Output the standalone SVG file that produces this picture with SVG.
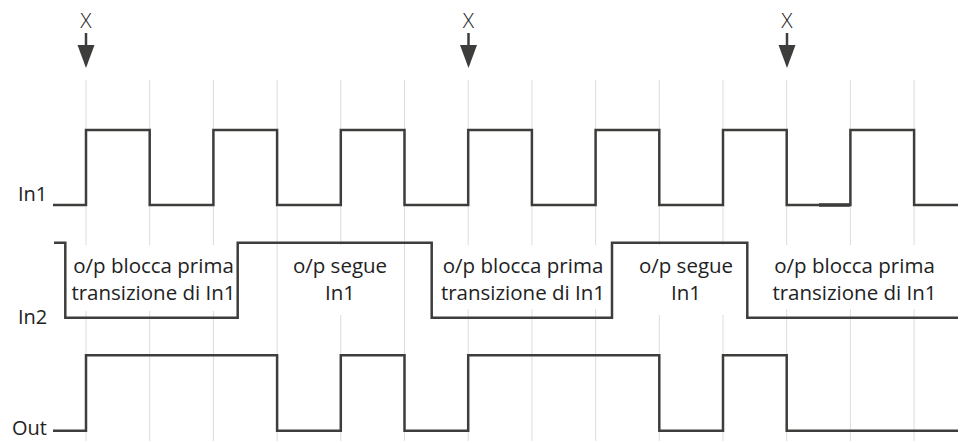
<svg xmlns="http://www.w3.org/2000/svg" width="961" height="443" viewBox="0 0 961 443">
<style>
.grid{stroke:#dcdcdc;stroke-width:1;fill:none}
.sig{stroke:#3d3e3b;stroke-width:2.5;fill:none;stroke-linejoin:miter;stroke-linecap:butt}
.lbl{font-family:"Open Sans","Noto Sans",sans-serif;font-size:20px;fill:#222}
.note{font-family:"Open Sans","Noto Sans",sans-serif;font-size:20.5px;fill:#222;text-anchor:middle}
.x{font-family:"Open Sans","Noto Sans",sans-serif;font-size:21px;fill:#222;text-anchor:middle;font-weight:300}
.mask{fill:#fff}
.arr{fill:#3d3e3b}
</style>
<defs>
<g id="arrow">
<line x1="0" y1="33" x2="0" y2="46" stroke="#3d3e3b" stroke-width="2.5"/>
<polygon class="arr" points="-8.5,45 8.5,45 0,68"/>
</g>
</defs>
<rect width="961" height="443" fill="#fff"/>
<g id="grid">
<path class="grid" d="M86 80V441M149.7 80V441M213.4 80V441M277.1 80V441M340.8 80V441M404.5 80V441M468.2 80V441M531.9 80V441M595.6 80V441M659.3 80V441M723 80V441M786.7 80V441M850.4 80V441M914.1 80V441"/>
</g>
<g id="masks">
<rect class="mask" x="70" y="245" width="166" height="66"/>
<rect class="mask" x="287" y="245" width="106" height="70"/>
<rect class="mask" x="438" y="245" width="172" height="64"/>
<rect class="mask" x="634" y="245" width="104" height="70"/>
<rect class="mask" x="770" y="245" width="170" height="64"/>
</g>
<g id="connectors">
<path id="in1-signal" class="sig" d="M53 205H86V130H149.7V205H213.4V130H277.1V205H340.8V130H404.5V205H468.2V130H531.9V205H595.6V130H659.3V205H723V130H786.7V205H850.4V130H914.1V205H958"/>
<line x1="819" y1="205" x2="850" y2="205" stroke="#3d3e3b" stroke-width="3.5"/>
<path id="in2-signal" class="sig" d="M54 242.7H65.3V317.7H237.7V242.7H431.7V317.7H612V242.7H747.3V317.7H958"/>
<path id="out-signal" class="sig" d="M53 430.7H86V355.3H277.1V430.7H340.8V355.3H404.5V430.7H468.2V355.3H659.3V430.7H723V355.3H786.7V430.7H958"/>
</g>
<g id="marker-1"><text class="x" x="86" y="28">X</text><use href="#arrow" x="86" y="0"/></g>
<g id="marker-2"><text class="x" x="468.5" y="28">X</text><use href="#arrow" x="468.5" y="0"/></g>
<g id="marker-3"><text class="x" x="787" y="28">X</text><use href="#arrow" x="787" y="0"/></g>
<g id="label-in1"><text class="lbl" x="18" y="201">In1</text></g>
<g id="label-in2"><text class="lbl" x="18" y="324">In2</text></g>
<g id="label-out"><text class="lbl" x="12" y="435">Out</text></g>
<g id="note-1"><text class="note" x="153.5" y="273">o/p blocca prima</text><text class="note" x="153.5" y="300">transizione di In1</text></g>
<g id="note-2"><text class="note" x="340" y="273">o/p segue</text><text class="note" x="340" y="300">In1</text></g>
<g id="note-3"><text class="note" x="523" y="273">o/p blocca prima</text><text class="note" x="523" y="300">transizione di In1</text></g>
<g id="note-4"><text class="note" x="686" y="273">o/p segue</text><text class="note" x="686" y="300">In1</text></g>
<g id="note-5"><text class="note" x="854.5" y="273">o/p blocca prima</text><text class="note" x="854.5" y="300">transizione di In1</text></g>
</svg>
